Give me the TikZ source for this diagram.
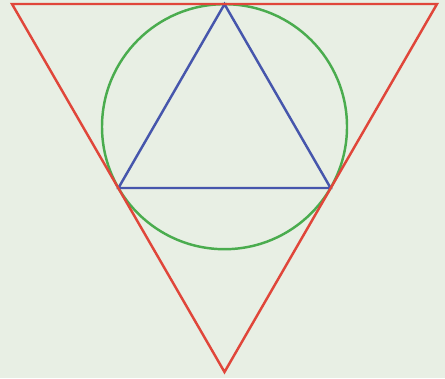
\documentclass[tikz,border=0pt]{standalone}
\usepackage{tikz}
\usepackage{xcolor}
\definecolor{bg-pale}{RGB}{232,239,228}
\definecolor{tri-red}{RGB}{224,70,58}
\definecolor{circ-green}{RGB}{74,172,78}
\definecolor{tri-blue}{RGB}{70,86,172}
\begin{document}
\begin{tikzpicture}[
  x=0.02cm, y=-0.02cm,
  edge/.style={line width=1.4pt, line join=miter},
]
  % background and frame
  \fill[bg-pale] (0,0) rectangle (445,378);
  \useasboundingbox (0,0) rectangle (445,378);
  % outer triangle
  \coordinate (tl) at (12,4);
  \coordinate (tr) at (437,4);
  \coordinate (bot) at (224.5,372);
  % incircle
  \coordinate (ctr) at (224.5,126.7);
  \draw[edge, circ-green] (ctr) circle[radius=122.5];
  % inner triangle on the contact points
  \coordinate (top) at (224.5,4.2);
  \coordinate (cl) at (118.4,188);
  \coordinate (cr) at (330.6,188);
  \draw[edge, tri-blue] (top) -- (cl) -- (cr) -- cycle;
  \draw[edge, tri-red] (tl) -- (tr) -- (bot) -- cycle;
\end{tikzpicture}
\end{document}
